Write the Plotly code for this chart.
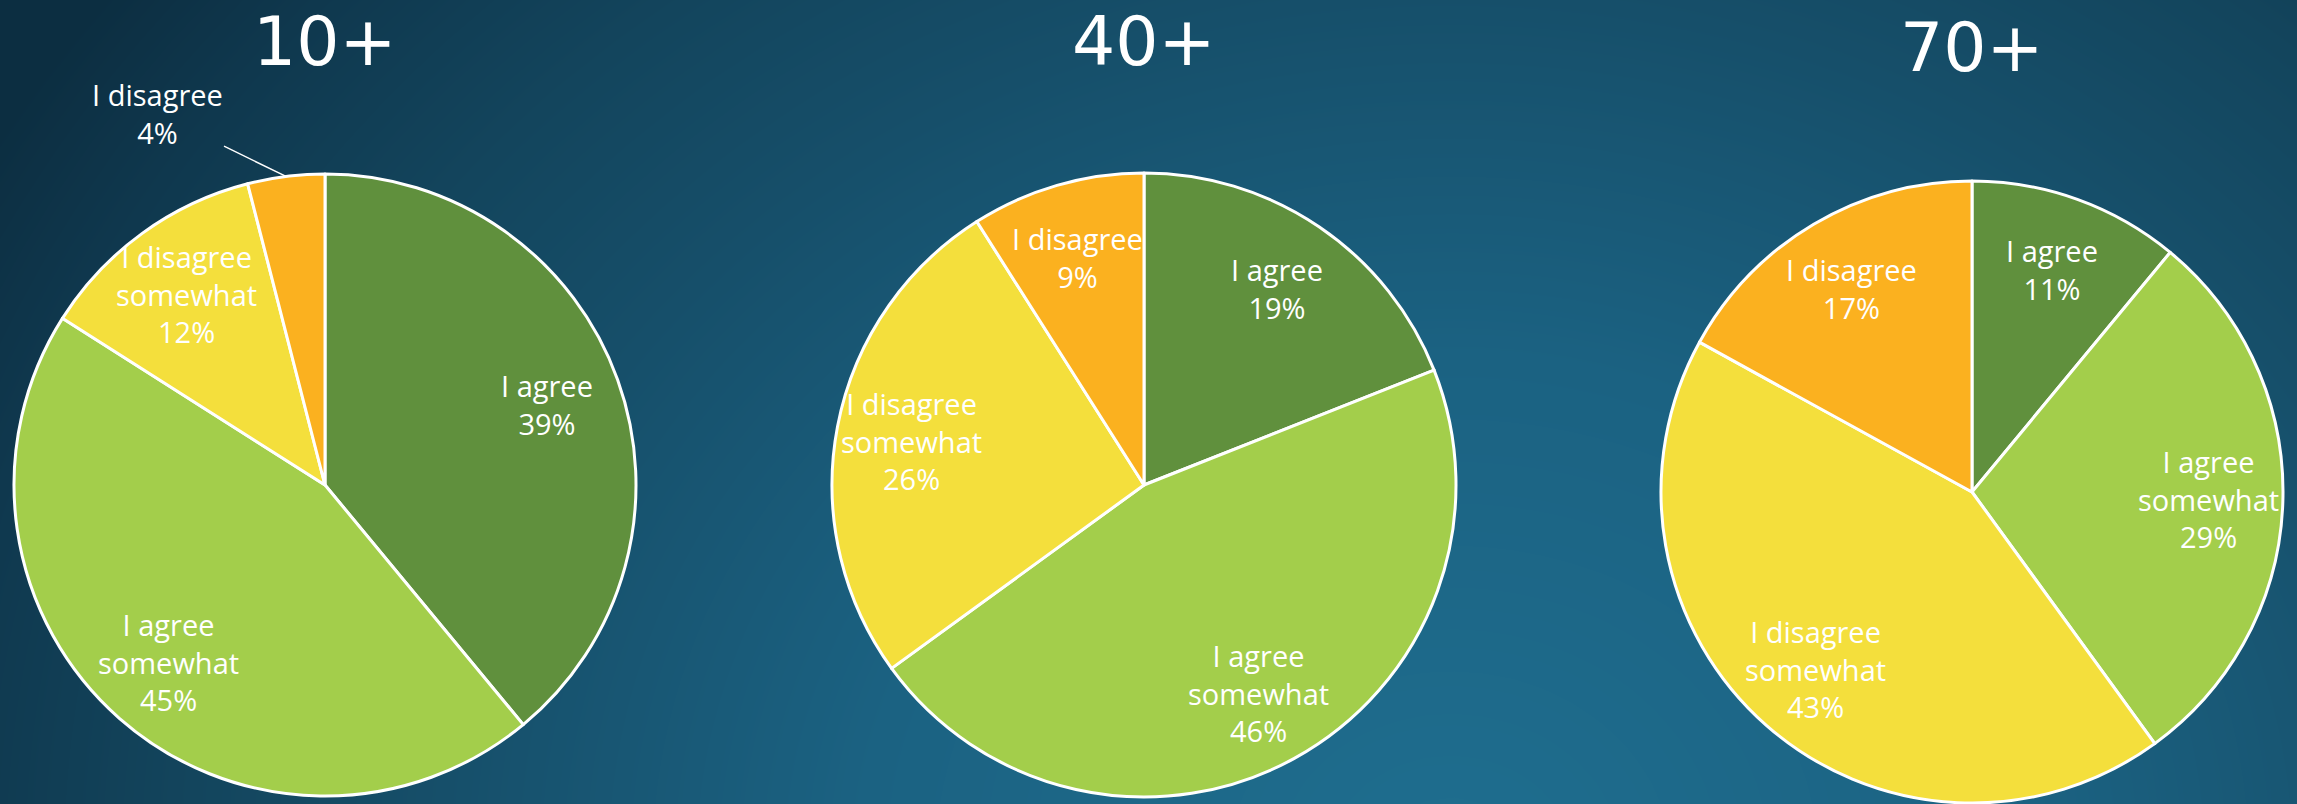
import numpy as np
import plotly.graph_objects as go

# ---- data ----
categories = ["I agree", "I agree somewhat", "I disagree somewhat", "I disagree"]
group_titles = ["10+", "40+", "70+"]
values_10 = [39, 45, 12, 4]
values_40 = [19, 46, 26, 9]
values_70 = [11, 29, 43, 17]

colors = ["#60903d", "#a3ce4b", "#f4df3c", "#fbb11f"]
W, H = 2297, 804
FONT = "Open Sans"
LABEL_R = 0.76          # label distance from centre, in pie radii
OUTSIDE = {(0, 3): (-129, -63)}   # (pie, slice) -> label offset in px from rim

fig = go.Figure()

# ---- background gradient (decorative) ----
gx = np.linspace(0, W, 80)
gy = np.linspace(0, H, 40)
X, Y = np.meshgrid(gx, gy)
D = np.sqrt(((X - 1450) / 1050) ** 2 + ((Y - 860) / 900) ** 2)
fig.add_trace(go.Heatmap(
    x=gx, y=gy, z=D, zmin=0, zmax=1.6, zsmooth="best", showscale=False,
    hoverinfo="skip",
    colorscale=[[0, "#1f6e8f"], [0.35, "#1b6282"], [0.6, "#164f6a"],
                [0.75, "#13455d"], [0.9, "#0f384e"], [1, "#0c2e41"]],
))
fig.update_layout(
    xaxis=dict(range=[0, W], visible=False, fixedrange=True, domain=[0, 1]),
    yaxis=dict(range=[H, 0], visible=False, fixedrange=True, domain=[0, 1]),
)

# ---- pies ----
display = [c.replace(" somewhat", "<br>somewhat") for c in categories]
domains = [
    dict(x=[14 / W, 636 / W], y=[8 / H, 630 / H]),
    dict(x=[832 / W, 1456 / W], y=[7 / H, 631 / H]),
    dict(x=[1661 / W, 2283 / W], y=[1 / H, 623 / H]),
]
series = [values_10, values_40, values_70]
for k, (vals, dom) in enumerate(zip(series, domains)):
    fig.add_trace(go.Pie(
        labels=categories, values=vals, textinfo="none",
        sort=False, direction="clockwise", rotation=0,
        marker=dict(colors=colors, line=dict(color="white", width=3)),
        domain=dom, showlegend=False, hoverinfo="label+percent",
    ))
    # hidden unit axes over the pie, used to place the slice labels
    ax_id = k + 2
    fig.add_trace(go.Scatter(x=[], y=[], xaxis=f"x{ax_id}", yaxis=f"y{ax_id}",
                             showlegend=False, hoverinfo="skip"))
    fig.layout[f"xaxis{ax_id}"] = dict(domain=dom["x"], range=[-1, 1], visible=False,
                                       fixedrange=True, anchor=f"y{ax_id}")
    fig.layout[f"yaxis{ax_id}"] = dict(domain=dom["y"], range=[-1, 1], visible=False,
                                       fixedrange=True, anchor=f"x{ax_id}")
    v = np.array(vals, dtype=float)
    mids = (np.cumsum(v) - v / 2) / v.sum() * 2 * np.pi
    for i, (lab, val, a) in enumerate(zip(display, vals, mids)):
        txt = f"{lab}<br>{val}%"
        common = dict(text=txt, xref=f"x{ax_id}", yref=f"y{ax_id}", align="center",
                      font=dict(family=FONT, size=29, color="white"))
        if (k, i) in OUTSIDE:
            dx, dy = OUTSIDE[(k, i)]
            fig.add_annotation(x=np.sin(a), y=np.cos(a), ax=dx, ay=dy,
                               showarrow=True, arrowhead=0, arrowwidth=1.5,
                               arrowcolor="white", standoff=0, **common)
        else:
            fig.add_annotation(x=LABEL_R * np.sin(a), y=LABEL_R * np.cos(a),
                               xanchor="center", yanchor="middle",
                               showarrow=False, **common)

# ---- titles ----
title_offsets = [0, 0, 6]
for t, dom, off in zip(group_titles, domains, title_offsets):
    cx = (dom["x"][0] + dom["x"][1]) / 2
    fig.add_annotation(text=t, x=cx, y=1 - off / H, xref="paper", yref="paper",
                       xanchor="center", yanchor="top", showarrow=False,
                       font=dict(family="DejaVu Sans", size=68, color="white"))

fig.update_layout(
    width=W, height=H, margin=dict(l=0, r=0, t=0, b=0),
    paper_bgcolor="#134760", plot_bgcolor="rgba(0,0,0,0)",
)
fig.write_html("out.html", config={"displayModeBar": False},
               post_script="document.body.style.margin='0';document.body.style.overflow='hidden';")
